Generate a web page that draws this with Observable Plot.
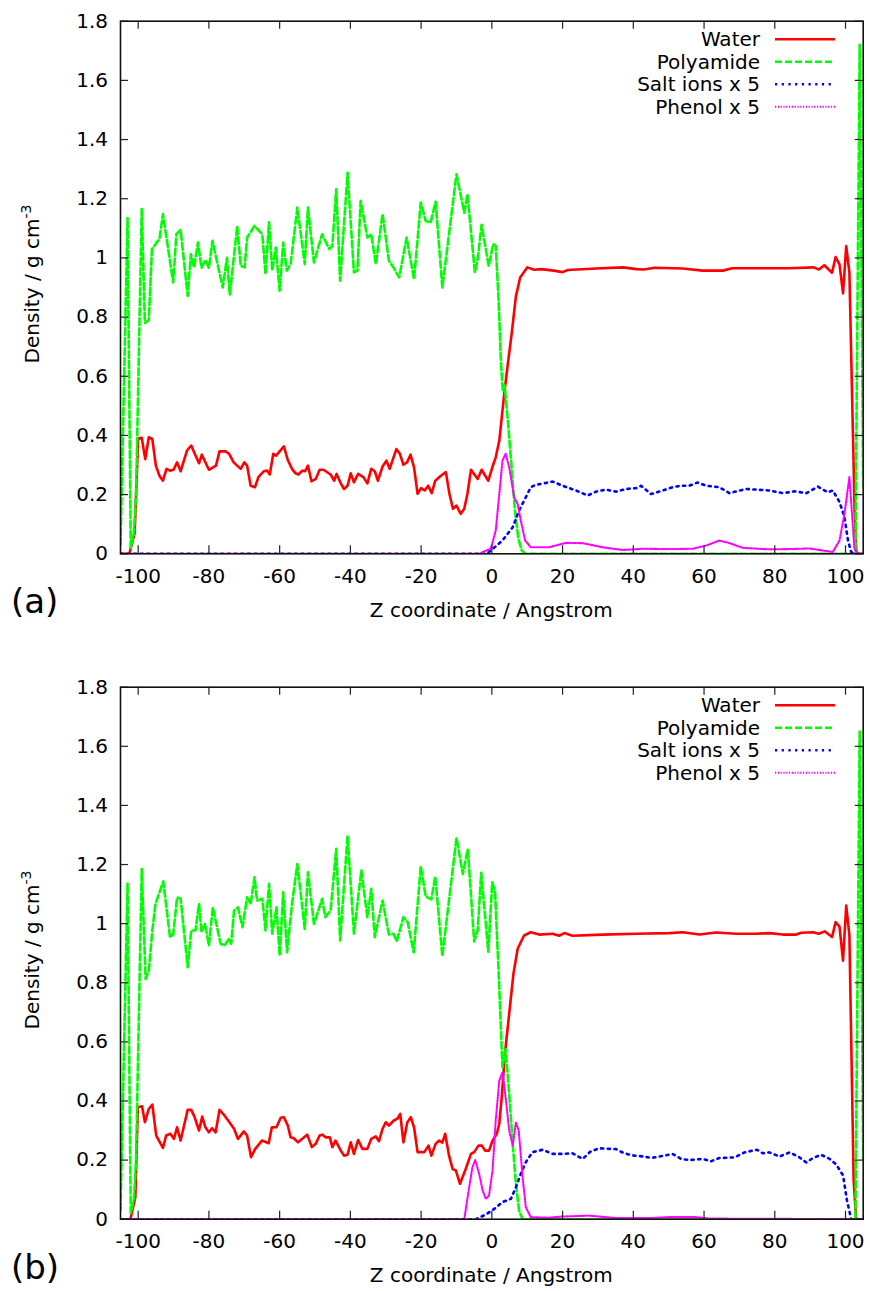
<!DOCTYPE html>
<html><head><meta charset="utf-8">
<script src="https://cdn.jsdelivr.net/npm/d3@7"></script>
<script src="https://cdn.jsdelivr.net/npm/@observablehq/plot@0.6"></script>
<style>
html,body{margin:0;padding:0;background:#fff;}
#wrap{position:relative;width:870px;height:1291px;overflow:hidden;}
#wrap svg{position:absolute;left:0;}
</style></head><body><div id="wrap"></div>
<script>
// ---- data: [z (Angstrom), density (g cm^-3)] ----
const waterA = [[-105,0],[-102.5,0],[-101,0.07],[-100,0.39],[-99,0.392],[-98,0.32],[-97,0.394],[-96,0.388],[-95,0.298],[-94,0.264],[-93,0.247],[-92,0.287],[-91,0.281],[-90,0.284],[-89,0.309],[-88,0.279],[-86.2,0.349],[-85,0.366],[-84,0.338],[-82.8,0.306],[-82,0.335],[-80,0.284],[-78,0.298],[-77,0.346],[-75.3,0.346],[-74.3,0.338],[-73,0.309],[-71,0.287],[-70,0.309],[-69.2,0.298],[-68.2,0.23],[-67,0.225],[-66,0.259],[-64.5,0.279],[-63.5,0.281],[-62.8,0.268],[-61.8,0.338],[-61,0.332],[-58.8,0.363],[-57.7,0.317],[-56.5,0.287],[-55.5,0.272],[-54.7,0.268],[-53.6,0.281],[-52.8,0.279],[-52,0.298],[-51,0.245],[-49.8,0.253],[-48.7,0.284],[-47.6,0.284],[-45.6,0.268],[-44.6,0.247],[-43.9,0.27],[-42.7,0.238],[-41.8,0.219],[-40.8,0.23],[-39.9,0.272],[-39,0.242],[-37.8,0.27],[-36.3,0.259],[-35.2,0.238],[-34.1,0.287],[-33.1,0.279],[-32.2,0.247],[-30.9,0.295],[-29.8,0.315],[-28.9,0.287],[-27,0.354],[-26,0.338],[-25,0.301],[-24,0.309],[-23,0.335],[-22,0.292],[-21,0.203],[-20,0.222],[-19,0.214],[-18,0.23],[-17,0.205],[-16,0.247],[-14.4,0.264],[-13,0.276],[-12,0.203],[-11,0.152],[-10,0.163],[-8.8,0.135],[-7.8,0.152],[-6.9,0.203],[-5.9,0.284],[-4,0.253],[-2.9,0.284],[-1,0.247],[0.2,0.295],[1.1,0.326],[2.1,0.382],[2.7,0.45],[3.5,0.54],[4.4,0.63],[5.6,0.743],[6.8,0.87],[8,0.934],[10,0.968],[12,0.96],[14,0.962],[17.5,0.957],[20,0.952],[21.5,0.959],[29.5,0.964],[37,0.968],[41,0.962],[43,0.961],[46,0.967],[54,0.964],[59.6,0.957],[65.3,0.957],[68,0.965],[75,0.965],[84,0.965],[91,0.968],[92.5,0.961],[94,0.975],[96.2,0.95],[97.2,1.003],[98.3,0.978],[99.3,0.88],[100.2,1.04],[101.1,0.95],[102.6,0.13],[103.1,0],[105,0]];
const polyA = [[-105,0.03],[-103,1.135],[-102.1,0.02],[-101.2,0.07],[-100.6,0.2],[-99,1.165],[-98.1,0.78],[-97,0.79],[-96.1,1.03],[-94.6,1.055],[-94,1.063],[-93,1.148],[-90.1,0.917],[-89.2,1.08],[-88,1.094],[-86,0.872],[-85.1,1.013],[-84.2,0.968],[-83.1,1.052],[-82.1,0.966],[-81,0.993],[-80,0.966],[-79,1.058],[-76.1,0.9],[-74.9,1.0],[-74.1,0.875],[-72,1.108],[-71,0.973],[-69.9,0.968],[-69.2,1.069],[-67.1,1.108],[-64.9,1.08],[-64,0.945],[-63,1.12],[-62.1,0.957],[-61.1,1.035],[-60,0.889],[-59,1.052],[-58,0.957],[-56.9,0.979],[-55,1.17],[-52.9,0.979],[-52,1.17],[-50.3,0.985],[-48,1.08],[-46,1.03],[-45.1,1.04],[-44,1.232],[-42.9,0.923],[-40.8,1.288],[-39,0.951],[-38,0.957],[-37.1,1.193],[-35.2,1.069],[-34.1,1.08],[-32.8,0.979],[-30.9,1.148],[-29.1,0.99],[-28.1,0.973],[-26.2,0.934],[-24.1,1.069],[-22,0.928],[-20.1,1.187],[-18.7,1.125],[-17.3,1.12],[-15.9,1.19],[-14,0.9],[-10,1.283],[-7.8,1.153],[-6.9,1.215],[-4.8,0.951],[-4,0.996],[-2.9,1.112],[-0.9,0.973],[0.4,1.047],[1.1,1.04],[1.9,0.86],[2.6,0.64],[3.1,0.55],[3.6,0.57],[4.6,0.44],[5.6,0.29],[6.5,0.15],[7.5,0.05],[8.5,0.01],[9.5,0],[102.8,0],[104,1.72],[105,0.22]];
const saltA = [[-105,0],[-1.5,0],[-0.3,0.011],[3,0.045],[5.9,0.09],[7.7,0.146],[9.6,0.191],[11,0.225],[12.4,0.233],[17.2,0.244],[20,0.23],[23.8,0.214],[27.1,0.197],[29.4,0.21],[32.3,0.217],[35.1,0.21],[37.9,0.219],[40.8,0.222],[42.2,0.23],[45,0.202],[48.3,0.214],[51.1,0.225],[53.5,0.23],[55.8,0.23],[58.2,0.241],[60.6,0.23],[64.3,0.225],[67.2,0.205],[69.1,0.211],[71.9,0.219],[74.7,0.217],[78.5,0.214],[82.3,0.205],[85.6,0.211],[88.9,0.205],[92.2,0.227],[95,0.208],[96.4,0.214],[98.3,0.175],[99.7,0.124],[100.7,0.045],[101.6,0.006],[102.5,0],[105,0]];
const phenolA = [[-105,0],[-3.5,0],[-2.6,0.006],[-0.3,0.017],[1.1,0.079],[2.3,0.225],[3,0.315],[3.9,0.338],[4.9,0.293],[6.3,0.191],[7.3,0.169],[8.2,0.112],[9.4,0.045],[11,0.022],[16.2,0.022],[20.9,0.037],[25.7,0.036],[31.3,0.022],[37,0.013],[42.7,0.017],[50.2,0.016],[56.8,0.017],[60.6,0.028],[64.3,0.045],[67.2,0.036],[71,0.02],[78.5,0.015],[84.2,0.016],[89.8,0.018],[96.4,0.006],[98.3,0.045],[99.7,0.135],[101.1,0.259],[101.9,0.124],[102.5,0.017],[103.5,0],[105,0]];

const waterB = [[-105,0],[-102.2,0],[-100.8,0.074],[-100.1,0.379],[-98.9,0.382],[-98.1,0.328],[-97,0.373],[-96,0.388],[-94.9,0.283],[-93,0.241],[-92.1,0.283],[-90.9,0.289],[-89.9,0.272],[-89,0.311],[-88,0.266],[-86,0.37],[-85,0.37],[-84.1,0.347],[-82.8,0.3],[-81.9,0.347],[-81,0.311],[-80,0.294],[-79.1,0.308],[-78.1,0.294],[-77,0.37],[-75.8,0.354],[-73.9,0.323],[-72.9,0.306],[-71.8,0.272],[-70.1,0.297],[-69.2,0.283],[-68.1,0.21],[-66.9,0.238],[-65,0.266],[-63.1,0.257],[-62.2,0.311],[-60.9,0.311],[-59.7,0.343],[-58.8,0.345],[-57.7,0.317],[-56.9,0.277],[-56,0.274],[-54.8,0.26],[-53.6,0.272],[-52.2,0.286],[-50.9,0.244],[-49.8,0.255],[-48.7,0.283],[-47.9,0.286],[-47,0.277],[-45.8,0.277],[-45.1,0.244],[-44.2,0.266],[-42.7,0.232],[-41.8,0.215],[-40.8,0.218],[-39.9,0.26],[-39,0.221],[-37.8,0.268],[-36.6,0.238],[-35.2,0.238],[-34.1,0.272],[-32.8,0.28],[-31.9,0.264],[-30.9,0.306],[-30,0.328],[-29.1,0.317],[-27.7,0.334],[-26.7,0.34],[-25.9,0.356],[-25,0.26],[-23.9,0.328],[-22.9,0.345],[-22,0.311],[-21,0.227],[-19.1,0.227],[-17.9,0.249],[-17.1,0.215],[-15.9,0.255],[-14.9,0.266],[-14,0.259],[-13.2,0.289],[-12.1,0.215],[-11.1,0.17],[-10.2,0.165],[-9,0.12],[-7.4,0.17],[-5.9,0.221],[-5,0.227],[-3.8,0.249],[-2.8,0.249],[-1.9,0.232],[-0.8,0.232],[0.2,0.266],[1.4,0.289],[2.1,0.323],[2.8,0.413],[3.7,0.56],[4.9,0.695],[6.1,0.83],[7.3,0.915],[9.1,0.96],[11,0.971],[13.4,0.963],[17.2,0.966],[19,0.959],[20.5,0.968],[22.8,0.959],[31.3,0.963],[40.8,0.966],[50.2,0.968],[54,0.971],[58.7,0.963],[63.4,0.97],[69.1,0.966],[74.7,0.966],[78.5,0.968],[82.3,0.963],[86,0.963],[87.5,0.969],[90.8,0.971],[92.5,0.966],[94.1,0.974],[96.2,0.955],[97.2,1.005],[98.3,0.99],[99.3,0.875],[100.2,1.061],[101.1,0.96],[102.3,0.131],[103,0],[105,0]];
const polyB = [[-105,0.03],[-103,1.136],[-102.1,0.02],[-101.2,0.07],[-100.6,0.2],[-99,1.185],[-97.9,0.813],[-97,0.84],[-96,0.977],[-95.1,1.067],[-92.9,1.143],[-91,0.954],[-90.1,0.963],[-89,1.089],[-88,1.084],[-86,0.853],[-85,0.977],[-83.8,0.977],[-82.8,1.067],[-82.1,0.971],[-81.1,1.0],[-80,0.926],[-78.9,1.055],[-76.7,0.932],[-75.6,0.926],[-74.3,0.949],[-73.7,0.932],[-72.9,1.044],[-71.8,1.055],[-70.5,0.988],[-69.2,1.089],[-68.2,1.067],[-67.1,1.157],[-66.4,1.078],[-64.9,1.084],[-64,0.977],[-63,1.135],[-62.1,0.966],[-60.9,1.055],[-60,0.892],[-59,1.106],[-57.9,0.903],[-56.5,1.067],[-55,1.202],[-52.9,0.982],[-52,1.174],[-50.3,0.999],[-48,1.084],[-47.1,1.022],[-45.6,1.044],[-44,1.253],[-42.9,0.943],[-40.8,1.298],[-39,0.966],[-36.9,1.18],[-35.2,1.022],[-34.1,1.118],[-33.1,0.954],[-30.9,1.078],[-29.1,0.963],[-27.8,0.966],[-26.9,0.94],[-25,1.022],[-23.8,1.005],[-22.1,0.903],[-20.1,1.194],[-18.7,1.092],[-17.1,1.082],[-16,1.16],[-14,0.89],[-10,1.29],[-8.2,1.168],[-6.8,1.252],[-5,0.94],[-4,0.977],[-3,1.172],[-1,0.905],[0.1,1.14],[0.9,1.11],[2.1,0.785],[2.8,0.571],[3.0,0.514],[3.9,0.576],[4.9,0.424],[5.9,0.255],[6.8,0.12],[7.7,0.029],[8.7,0],[102.8,0],[104,1.65],[105,0.2]];
const saltB = [[-105,0],[-4.5,0],[-1.7,0.016],[0.7,0.035],[3.0,0.058],[5.4,0.069],[6.8,0.108],[8.2,0.154],[9.6,0.193],[11.5,0.227],[14.4,0.235],[17.2,0.221],[20,0.221],[22.8,0.223],[25.7,0.204],[28,0.23],[30.4,0.24],[35.1,0.237],[37.4,0.223],[40.3,0.215],[43.1,0.212],[45,0.207],[47.4,0.212],[51.1,0.221],[53.5,0.204],[55.8,0.2],[59.6,0.204],[62,0.196],[64.3,0.207],[68.6,0.209],[71.4,0.226],[75,0.235],[76.6,0.223],[78.5,0.226],[81.3,0.212],[84.2,0.226],[87,0.209],[88.9,0.192],[90.8,0.207],[93.1,0.218],[95.5,0.204],[97.4,0.185],[99.3,0.148],[100.4,0.064],[101.6,0],[105,0]];
const phenolB = [[-105,0],[-7.8,0],[-6.7,0.086],[-5.5,0.176],[-4.7,0.2],[-3.6,0.154],[-2.6,0.097],[-1.7,0.069],[-0.8,0.08],[0.2,0.165],[1.1,0.334],[2.1,0.469],[3.0,0.497],[3.9,0.413],[4.9,0.3],[5.9,0.249],[6.8,0.328],[7.6,0.3],[8.7,0.142],[9.6,0.041],[11,0.007],[16,0.005],[20,0.009],[27.7,0.012],[35,0.004],[45,0.004],[50,0.007],[57.5,0.007],[62,0.002],[105,0]];

const xTicks = [-100,-80,-60,-40,-20,0,20,40,60,80,100];
const yTicks = [0,0.2,0.4,0.6,0.8,1,1.2,1.4,1.6,1.8];
const seriesNames = ["Water","Polyamide","Salt ions x 5","Phenol x 5"];
const panelLetters = ["(a)","(b)"];
const xLabel = "Z coordinate / Angstrom";
const yLabelMain = "Density / g cm";
const yLabelSup = "-3";

// ---- styles ----
const colors = ["#ff0000","#00ff00","#0000ff","#ff00ff"];
const dashes = [null,"7,3","2.2,4.5","1.2,1.6"];
const widths = [2.6,2.6,2.6,2.1];
const FONT = "DejaVu Sans, Liberation Sans, sans-serif";

function panel(svgTop, height, marginTop, marginBottom, letter, series) {
  const W = 870, mL = 120, mR = 7.3;
  const plotH = height - marginTop - marginBottom;
  const plotW = W - mL - mR;
  const marks = [];
  series.forEach((s, i) => {
    marks.push(Plot.line(s, {x: p => p[0], y: p => p[1], stroke: colors[i], strokeWidth: widths[i],
      strokeDasharray: dashes[i], strokeLinejoin: "round", clip: true}));
  });
  const tk = 8;
  marks.push(Plot.tickX(xTicks, {x: d => d, insetTop: plotH - tk, stroke: "#222", strokeWidth: 1.2}));
  marks.push(Plot.tickX(xTicks, {x: d => d, insetBottom: plotH - tk, stroke: "#222", strokeWidth: 1.2}));
  marks.push(Plot.tickY(yTicks, {y: d => d, insetRight: plotW - tk, stroke: "#222", strokeWidth: 1.2}));
  marks.push(Plot.tickY(yTicks, {y: d => d, insetLeft: plotW - tk, stroke: "#222", strokeWidth: 1.2}));
  marks.push(Plot.frame({stroke: "#111", strokeWidth: 1.6}));
  const svg = Plot.plot({
    width: W, height,
    marginLeft: mL, marginRight: mR, marginTop, marginBottom,
    style: {fontFamily: FONT, fontSize: "20px", background: "white", color: "black", overflow: "visible"},
    x: {domain: [-105, 105], ticks: xTicks, tickSize: 0, tickPadding: 15, label: null, tickFormat: d => String(d)},
    y: {domain: [0, 1.8], ticks: yTicks, tickSize: 0, tickPadding: 12.5, label: null, tickFormat: d3.format("~g")},
    marks
  });
  svg.style.top = svgTop + "px";
  const s = d3.select(svg);
  const fTop = marginTop, fBot = height - marginBottom;
  // y label
  const yl = s.append("text").attr("transform", `translate(39.3,${fTop + 263.3}) rotate(-90)`)
    .attr("text-anchor", "middle").attr("font-family", FONT).attr("font-size", 20).attr("fill", "black");
  yl.append("tspan").text(yLabelMain);
  yl.append("tspan").attr("dy", -8).attr("font-size", 14).text(yLabelSup);
  // x label
  s.append("text").attr("x", (mL + W - mR) / 2).attr("y", fBot + 63.4).attr("text-anchor", "middle")
    .attr("font-family", FONT).attr("font-size", 20).attr("fill", "black").text(xLabel);
  // panel letter
  s.append("text").attr("x", 11).attr("y", fBot + 60).attr("text-anchor", "start")
    .attr("font-family", FONT).attr("font-size", 34).attr("fill", "black").text(letter);
  // legend
  seriesNames.forEach((name, i) => {
    const cy = fTop + 18.5 + 22.5 * i;
    s.append("text").attr("x", 760).attr("y", cy + 7.2).attr("text-anchor", "end")
      .attr("font-family", FONT).attr("font-size", 20).attr("fill", "black").text(name);
    const ln = s.append("line").attr("x1", 775).attr("x2", 835).attr("y1", cy).attr("y2", cy)
      .attr("stroke", colors[i]).attr("stroke-width", widths[i]);
    if (dashes[i]) ln.attr("stroke-dasharray", dashes[i]);
  });
  document.getElementById("wrap").appendChild(svg);
}

panel(0, 640, 20.7, 86.7, panelLetters[0], [waterA, polyA, saltA, phenolA]);
panel(640, 651, 46.7, 72.3, panelLetters[1], [waterB, polyB, saltB, phenolB]);
</script></body></html>
